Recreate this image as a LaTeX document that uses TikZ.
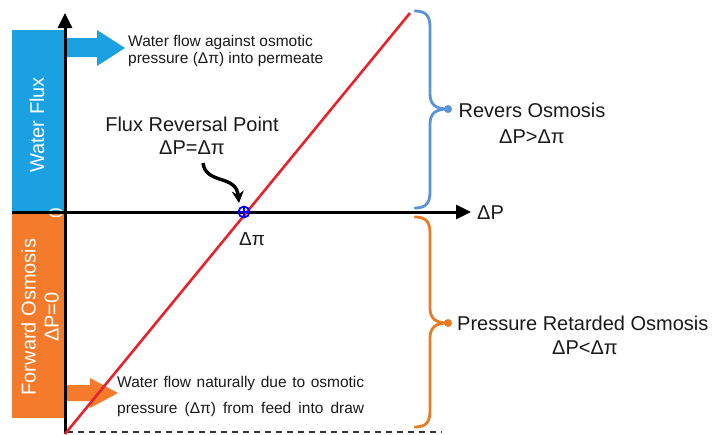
\documentclass[tikz,border=0pt]{standalone}
\usepackage{fontspec}
\setmainfont{Liberation Sans}
\usetikzlibrary{arrows.meta}
\definecolor{fluxblue}{HTML}{1BA1E2}
\definecolor{fwdorange}{HTML}{F47B2B}
\definecolor{braceblue}{HTML}{5B93D8}
\definecolor{braceorange}{HTML}{EB7A25}
\definecolor{linered}{HTML}{E8222A}
\definecolor{txt}{HTML}{1A1A1A}
\begin{document}
\begin{tikzpicture}[x=1pt,y=-1pt,
  big/.style={font=\fontsize{20}{24}\selectfont, text=txt, inner sep=0pt},
  small/.style={font=\fontsize{15.5}{18}\selectfont, text=txt, inner sep=0pt},
  sidetxt/.style={font=\fontsize{20}{23}\selectfont, text=white, inner sep=0pt, rotate=90},
  axis/.style={line width=3pt, -{Triangle[length=15pt,width=14pt]}},
  bracestyle/.style={line width=2.8pt, line cap=round},
]
\useasboundingbox (0,0) rectangle (715,434);
% side boxes
\fill[fluxblue] (12,30) rectangle (65,212);
\fill[fwdorange] (12,212) rectangle (65,418);
% block arrows
\fill[fluxblue] (65,38) -- (97,38) -- (97,30) -- (125,48) -- (97,66) -- (97,57) -- (65,57) -- cycle;
\fill[fwdorange] (65,385) -- (90,385) -- (90,378) -- (118,393) -- (90,408) -- (90,401) -- (65,401) -- cycle;
% side labels
\node[sidetxt] (wf) at (37,125) {Water Flux};
\node[sidetxt, align=center] (fo) at (40,317) {Forward Osmosis\\ΔP=0};
\node[font=\fontsize{19}{20}\selectfont, text=white!88!gray, inner sep=0pt, rotate=90] (zero) at (56,213) {0};
% axes
\coordinate (xs) at (12,212);
\coordinate (xe) at (471,212);
\coordinate (ys) at (65,434);
\coordinate (ye) at (65,13);
\draw[axis] (xs) -- (xe);
\draw[axis] (ys) -- (ye);
% dashed baseline
\coordinate (ds) at (67,432);
\coordinate (de) at (442,432);
\draw[dashed, dash pattern=on 6pt off 5pt, line width=1.3pt, black!80] (ds) -- (de);
% red line
\coordinate (ra) at (65,434);
\coordinate (rb) at (410,13);
\draw[linered, line width=2.6pt] (ra) -- (rb);
% reversal point
\coordinate (rp) at (244,212);
\draw[blue, line width=1.8pt] (rp) circle (5.5pt);
\draw[blue, line width=1.4pt] ([xshift=-5.5pt]rp) -- ([xshift=5.5pt]rp) ([yshift=-5.5pt]rp) -- ([yshift=5.5pt]rp);
% labels
\node[big, anchor=base] (frp1) at (192,131) {Flux Reversal Point};
\node[big, anchor=base] (frp2) at (192,154) {ΔP=Δπ};
\coordinate (ca) at (203,163);
\coordinate (cb) at (239,203);
\draw[line width=3.4pt, -{Stealth[length=12pt,width=12pt]}] (ca) .. controls (206,185) and (236,174) .. (cb);
\node[font=\fontsize{19}{20}\selectfont, text=txt, inner sep=0pt, anchor=base] (dpi) at (252,245) {Δπ};
\node[big, anchor=base west] (dp) at (477,219) {ΔP};
% top text
\node[small, anchor=base west] (wa1) at (128,46) {Water flow against osmotic};
\node[small, anchor=base west] (wa2) at (128,63) {pressure (Δπ) into permeate};
% bottom text
\node[small, anchor=base west] (wn1) at (117,387) {\hbox to 247pt{Water\hfill flow\hfill naturally\hfill due\hfill to\hfill osmotic}};
\node[small, anchor=base west] (wn2) at (117,413) {\hbox to 247pt{pressure\hfill (Δπ)\hfill from\hfill feed\hfill into\hfill draw}};
% blue brace
\coordinate (bt) at (415,11);
\coordinate (bb) at (415,208);
\coordinate (btip) at (448,109);
\draw[braceblue, bracestyle] (bt) .. controls (426,11) and (430,16) .. (430,27) -- (430,94) .. controls (430,104) and (435,109) .. (btip);
\draw[braceblue, bracestyle] (bb) .. controls (426,208) and (430,203) .. (430,192) -- (430,124) .. controls (430,114) and (435,109) .. (btip);
\fill[braceblue] (btip) circle (4pt);
\node[big, anchor=base] (ro1) at (532,117) {Revers Osmosis};
\node[big, anchor=base] (ro2) at (532,143) {ΔP>Δπ};
% orange brace
\coordinate (ot) at (415,217);
\coordinate (ob) at (415,427);
\coordinate (otip) at (448,323);
\draw[braceorange, bracestyle] (ot) .. controls (426,217) and (430,222) .. (430,233) -- (430,308) .. controls (430,318) and (435,323) .. (otip);
\draw[braceorange, bracestyle] (ob) .. controls (426,427) and (430,422) .. (430,411) -- (430,338) .. controls (430,328) and (435,323) .. (otip);
\fill[braceorange] (otip) circle (4pt);
\node[big, anchor=base west] (pro1) at (457,330) {Pressure Retarded Osmosis};
\node[big, anchor=base] (pro2) at (585,354) {ΔP<Δπ};
\end{tikzpicture}
\end{document}
